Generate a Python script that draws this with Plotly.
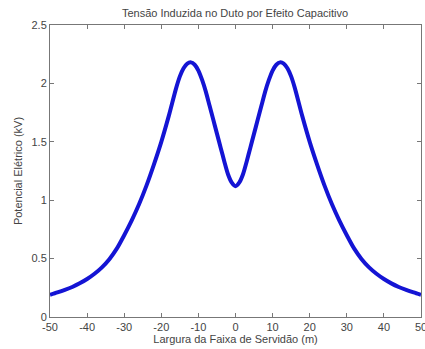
import plotly.graph_objects as go

x_left = [-50, -48, -46, -44, -42, -40, -38, -36, -34, -32, -30, -28, -26, -24, -22, -20, -18, -16, -15, -14, -13, -12,
          -11, -10, -9, -8, -7, -6, -5, -4, -3, -2, -1, 0]
y_left = [0.19, 0.21, 0.232, 0.257, 0.288, 0.325, 0.37, 0.425, 0.495, 0.585, 0.70, 0.825, 0.965, 1.125, 1.305, 1.50, 1.72, 1.96, 2.06, 2.13, 2.17, 2.18,
          2.16, 2.11, 2.03, 1.93, 1.81, 1.69, 1.57, 1.45, 1.33, 1.22, 1.15, 1.12]

x_vals = x_left + [-v for v in reversed(x_left[:-1])]
y_vals = y_left + list(reversed(y_left[:-1]))

x_ticks = [-50, -40, -30, -20, -10, 0, 10, 20, 30, 40, 50]
y_ticks = [0, 0.5, 1, 1.5, 2, 2.5]
y_tick_text = ["0", "0.5", "1", "1.5", "2", "2.5"]

title_text = "Tensão Induzida no Duto por Efeito Capacitivo"
x_title = "Largura da Faixa de Servidão (m)"
y_title = "Potencial Elétrico (kV)"

font_family = "Liberation Sans, Arial, sans-serif"
text_color = "#444444"
axis_color = "#777777"

fig = go.Figure()
fig.add_trace(go.Scatter(
    x=x_vals, y=y_vals, mode="lines",
    line=dict(color="#1414d4", width=4, shape="spline", smoothing=0.7),
    showlegend=False, hoverinfo="skip",
))

fig.update_layout(
    width=425, height=349,
    margin=dict(l=50, r=4, t=25, b=32),
    paper_bgcolor="white", plot_bgcolor="white",
    font=dict(family=font_family, size=11, color=text_color),
    title=dict(text=title_text, x=0.553, xanchor="center", y=0.963, yanchor="middle",
               font=dict(size=11, color=text_color)),
    xaxis=dict(range=[-50, 50], tickvals=x_ticks, ticktext=[str(v) for v in x_ticks],
               showgrid=False, zeroline=False, showline=True, linecolor=axis_color, linewidth=1,
               mirror="ticks", ticks="inside", ticklen=4, tickcolor=axis_color,
               ticklabeloverflow="allow", automargin=False,
               title=dict(text=x_title, standoff=2, font=dict(size=11, color=text_color)),
               tickfont=dict(size=11, color=text_color)),
    yaxis=dict(range=[0, 2.5], tickvals=y_ticks, ticktext=y_tick_text,
               showgrid=False, zeroline=False, showline=True, linecolor=axis_color, linewidth=1,
               mirror="ticks", ticks="inside", ticklen=4, tickcolor=axis_color,
               ticklabeloverflow="allow", automargin=False,
               title=dict(text=y_title, standoff=6, font=dict(size=11, color=text_color)),
               tickfont=dict(size=11, color=text_color)),
)

fig.write_html("out.html", config={"displayModeBar": False, "staticPlot": True},
               post_script="document.body.style.margin='0';document.body.style.padding='0';")
